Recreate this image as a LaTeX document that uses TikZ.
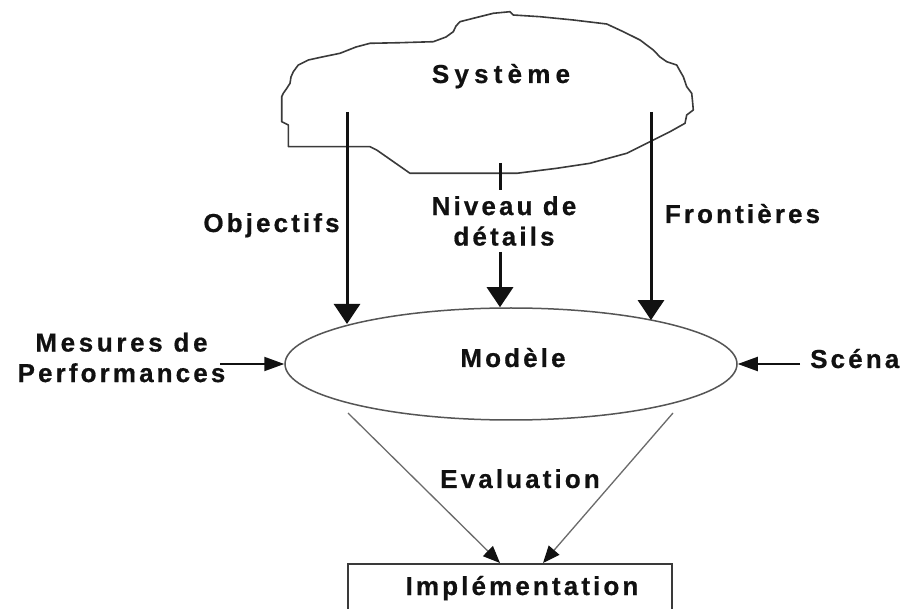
\documentclass[tikz,border=0pt]{standalone}
\usepackage{fontspec}
\setmainfont{Liberation Sans}[LetterSpace=12, BoldFeatures={FakeBold=0.6}]
\usetikzlibrary{arrows.meta,shapes.geometric}

\definecolor{ink}{HTML}{111111}
\definecolor{outline}{HTML}{3A3A3A}
\definecolor{rim}{HTML}{555555}
\definecolor{thinline}{HTML}{6A6A6A}

\begin{document}
\begin{tikzpicture}[x=1pt,y=-1pt,
  lbl/.style={font=\fontsize{26}{30.5}\selectfont\bfseries, text=ink, inner sep=0pt, align=center},
  bigarrow/.style={line width=3pt, draw=ink, -{Triangle[length=20pt,width=26pt]}},
  sidearrow/.style={line width=2pt, draw=ink, -{Triangle[length=20pt,width=14pt]}},
  evalarrow/.style={line width=1.3pt, draw=thinline, -{Triangle[length=17pt,width=14pt,color=ink]}},
  cloudline/.style={draw=outline, line width=1.6pt, line join=round},
]
\useasboundingbox (0,0) rectangle (903,609);
\clip (0,0) rectangle (903,609);
\fill[white] (0,0) rectangle (903,609);

% the system, drawn as an irregular cloud
\draw[cloudline] (281.7,96.7) -- (283.3,93.3) -- (287,88) -- (290,83.3) -- (291,77) -- (293.3,71.7)
  -- (298.3,65) -- (308.3,60) -- (322,57) -- (340,53.3) -- (356,47) -- (370,43.3) -- (400,42.7)
  -- (433.3,41.7) -- (446,37) -- (453.3,31.7) -- (456,26) -- (460,21.7) -- (473.3,18.3)
  -- (493.3,13.3) -- (510,11.7) -- (513.3,15) -- (540,16.7) -- (573.3,20) -- (606.7,24)
  -- (623.3,31.7) -- (640,40) -- (653.3,50) -- (660,57) -- (666.7,61.7) -- (676.7,65)
  -- (680,71) -- (683.3,76.7) -- (686.7,86.7) -- (691.7,93.3) -- (692.5,101) -- (693.3,110)
  -- (686.7,115) -- (685,123.3) -- (670,131.7) -- (653.3,140) -- (626.7,153.3) -- (590,163.3)
  -- (556.7,168.3) -- (516.7,173.3) -- (410,173.3) -- (376.7,150) -- (370,146.7) -- (288.3,146.7)
  -- (288.3,125) -- (281.7,121.7) -- cycle;
\node[lbl, anchor=base] (systeme) at (501,83) {\addfontfeature{LetterSpace=20}Système};

% the model
\node[ellipse, draw=rim, line width=1.5pt, minimum width=452pt, minimum height=112pt, inner sep=0pt] (model) at (511,364) {};
\node[lbl, anchor=base] (modeltxt) at (513,367) {Modèle};

% the implementation box
\node[draw=outline, line width=1.8pt, minimum width=324pt, minimum height=120pt, anchor=north, inner sep=0pt] (impl) at (510,563) {};
\node[lbl, anchor=base] (impltxt) at (522,595) {Implémentation};

% inputs coming down from the system
\coordinate (objsrc) at (347,112);
\coordinate (frosrc) at (651,112);
\coordinate (ticktop) at (500,163);
\coordinate (tickbot) at (500,190);
\coordinate (nivsrc) at (500,252);
\draw[bigarrow] (objsrc) -- (objsrc |- model.166.6);
\draw[bigarrow] (frosrc) -- (frosrc |- model.17.4);
\draw[line width=3pt, draw=ink] (ticktop) -- (tickbot);
\draw[bigarrow] (nivsrc) -- (nivsrc |- model.north);

\node[lbl, anchor=base] (objectifs) at (271.5,232) {Objectifs};
\node[lbl, anchor=base] (frontieres) at (742.5,223) {Frontières};
\node[lbl] (niveau) at (504,221) {Niveau de\\détails};

% side inputs
\coordinate (messrc) at (220,364);
\coordinate (scnsrc) at (800,364);
\draw[sidearrow] (messrc) -- (model.west);
\draw[sidearrow] (scnsrc) -- (model.east);
\node[lbl] (mesures) at (121.5,357.5) {\addfontfeature{LetterSpace=14}Mesures de\\Performances};
\node[lbl, anchor=base west] (scenarios) at (810,368) {Scéna};

% evaluation towards the implementation
\coordinate (evl) at (348,413);
\coordinate (evr) at (673,413);
\draw[evalarrow] (evl) -- ([xshift=-10pt]impl.north);
\draw[evalarrow] (evr) -- ([xshift=33pt]impl.north);
\node[lbl, anchor=base] (evaluation) at (520,488) {Evaluation};
\end{tikzpicture}
\end{document}
